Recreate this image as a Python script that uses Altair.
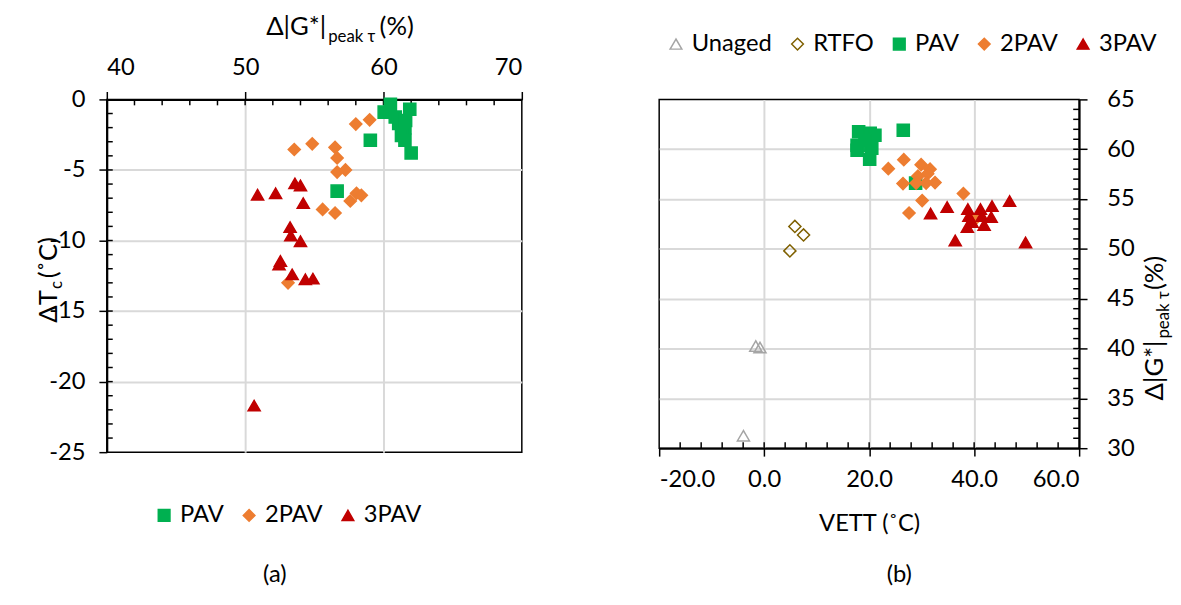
import altair as alt
import pandas as pd

FONT = "Lato"

# ---------------- Panel (a) data ----------------
a_groups = ["PAV", "2PAV", "3PAV"]
a_pav_x = [60.05, 60.5, 61.9, 60.85, 61.1, 61.55, 61.3, 61.55, 62.0, 59.05, 56.65, 61.6]
a_pav_y = [-0.9, -0.35, -0.7, -1.25, -1.7, -2.0, -2.55, -2.9, -3.8, -2.9, -6.5, -1.5]
a_2pav_x = [58.0, 59.0, 53.55, 54.85, 56.5, 56.65, 56.65, 57.25, 58.05, 58.4, 57.6, 55.6, 56.5, 53.1]
a_2pav_y = [-1.75, -1.45, -3.55, -3.15, -3.4, -4.15, -5.15, -5.0, -6.65, -6.8, -7.2, -7.8, -8.05, -13.0]
a_3pav_x = [50.9, 52.2, 53.6, 54.0, 54.2, 53.25, 53.3, 54.0, 52.55, 52.45, 53.4, 54.35, 54.9, 50.65]
a_3pav_y = [-6.75, -6.65, -5.95, -6.1, -7.35, -9.05, -9.65, -10.05, -11.45, -11.7, -12.4, -12.75, -12.7, -21.7]

a_x_ticks = [40, 50, 60, 70]
a_y_ticks = [0, -5, -10, -15, -20, -25]
a_x_minor = [42, 44, 46, 48, 50, 52, 54, 56, 58, 60, 62, 64, 66, 68]
a_y_minor = [-v for v in range(1, 25)]

# ---------------- Panel (b) data ----------------
b_groups = ["Unaged", "RTFO", "PAV", "2PAV", "3PAV"]
b_unaged_x = [-1.6, -0.8, -3.95]
b_unaged_y = [40.25, 40.1, 31.25]
b_rtfo_x = [5.85, 7.5, 4.9]
b_rtfo_y = [52.25, 51.4, 49.8]
b_pav_x = [18.0, 20.2, 21.1, 17.7, 20.2, 17.7, 20.5, 20.1, 26.5, 28.85, 19.2]
b_pav_y = [61.75, 61.6, 61.4, 60.4, 60.4, 59.9, 60.1, 59.0, 61.9, 56.6, 60.9]
b_2pav_x = [23.65, 26.6, 29.9, 31.6, 31.15, 29.3, 26.45, 28.95, 30.85, 32.55, 37.95, 30.1, 27.6, 40.25]
b_2pav_y = [58.05, 58.95, 58.45, 58.0, 57.55, 57.3, 56.55, 56.6, 56.6, 56.65, 55.55, 54.85, 53.6, 53.0]
b_3pav_x = [31.7, 34.85, 38.8, 41.2, 43.4, 46.75, 39.0, 41.5, 43.25, 38.7, 41.9, 36.4, 49.8, 39.6]
b_3pav_y = [53.55, 54.2, 54.0, 54.0, 54.3, 54.8, 53.3, 53.3, 53.2, 52.2, 52.4, 50.85, 50.65, 52.7]

b_x_ticks = [-20, 0, 20, 40, 60]
b_y_ticks = [30, 35, 40, 45, 50, 55, 60, 65]
b_x_minor = [-16, -12, -8, -4, 0, 4, 8, 12, 16, 20, 24, 28, 32, 36, 40, 44, 48, 52, 56]
b_y_minor = list(range(31, 65))

# ---------------- styles ----------------
stroke_col = {"Unaged": "#a5a5a5", "RTFO": "#7f6000", "PAV": "#00b050", "2PAV": "#ed7d31", "3PAV": "#c00000"}
fill_col = {"Unaged": "transparent", "RTFO": "transparent", "PAV": "#00b050", "2PAV": "#ed7d31", "3PAV": "#c00000"}
shape_of = {"Unaged": "triangle-up", "RTFO": "diamond", "PAV": "square", "2PAV": "diamond", "3PAV": "triangle-up"}

W_A, H_A = 420, 357
W_B, H_B = 425, 353
GRID = "#d9d9d9"
MINUS_FIX = "replace(datum.label, '\u2212', '-')"


def edge_grid(lo, hi):
    # grid lines in light grey, hidden where they would sit on the plot frame
    return {"condition": {"test": f"datum.value == {lo} || datum.value == {hi}", "value": 0}, "value": 1}


def frame(xs, ys, groups):
    rows = []
    for g, xv, yv in zip(groups, xs, ys):
        for a, b in zip(xv, yv):
            rows.append({"x": a, "y": b, "g": g})
    return pd.DataFrame(rows)


def point_layer(df, groups, xenc, yenc, legend):
    return alt.Chart(df).mark_point(filled=False, strokeWidth=1.5, opacity=1, size=150).encode(
        x=xenc,
        y=yenc,
        stroke=alt.Stroke("g:N", scale=alt.Scale(domain=groups, range=[stroke_col[g] for g in groups]), legend=legend),
        fill=alt.Fill("g:N", scale=alt.Scale(domain=groups, range=[fill_col[g] for g in groups]), legend=legend),
        shape=alt.Shape("g:N", scale=alt.Scale(domain=groups, range=[shape_of[g] for g in groups]), legend=legend),
    )


def text_piece(txt, x, y, size=26, align="left", angle=0, baseline="alphabetic"):
    return alt.Chart(pd.DataFrame({"t": [txt]})).mark_text(
        font=FONT, fontSize=size, align=align, baseline=baseline, angle=angle, color="black"
    ).encode(text="t:N", x=alt.value(x), y=alt.value(y))


def vrules(vals, scale, y0, y1, color, width=1.5):
    return alt.Chart(pd.DataFrame({"v": vals})).mark_rule(color=color, strokeWidth=width).encode(
        x=alt.X("v:Q", scale=scale, axis=None), y=alt.value(y0), y2=alt.value(y1))


def hrules(vals, scale, x0, x1, color, width=1.5):
    return alt.Chart(pd.DataFrame({"v": vals})).mark_rule(color=color, strokeWidth=width).encode(
        y=alt.Y("v:Q", scale=scale, axis=None), x=alt.value(x0), x2=alt.value(x1))


def legend_def(lx, ly):
    return alt.Legend(title=None, orient="none", legendX=lx, legendY=ly, direction="horizontal",
                      labelFont=FONT, labelFontSize=24, labelColor="black", symbolSize=140,
                      symbolStrokeWidth=1.5, columnPadding=13)


# ---------------- Panel (a) ----------------
dfa = frame([a_pav_x, a_2pav_x, a_3pav_x], [a_pav_y, a_2pav_y, a_3pav_y], a_groups)
sxa = alt.Scale(domain=[40, 70], nice=False, zero=False)
sya = alt.Scale(domain=[-25, 0], nice=False, zero=False)

axa_x = alt.Axis(orient="top", values=a_x_ticks, title=None, grid=True, gridColor=GRID, gridWidth=2,
                 gridOpacity=edge_grid(40, 70), tickSize=8, tickWidth=1.5,
                 tickColor="black", domainColor="black", domainWidth=2, labelPadding=12,
                 labelFont=FONT, labelFontSize=24, labelColor="black")
axa_y = alt.Axis(orient="left", values=a_y_ticks, title=None, grid=True, gridColor=GRID, gridWidth=2,
                 gridOpacity=edge_grid(-25, 0), tickSize=8, tickWidth=1.5,
                 tickColor="black", domainColor="black", domainWidth=2, labelPadding=14,
                 labelFont=FONT, labelFontSize=24, labelColor="black", labelExpr=MINUS_FIX)

pts_a = point_layer(dfa, a_groups,
                    alt.X("x:Q", scale=sxa, axis=axa_x),
                    alt.Y("y:Q", scale=sya, axis=axa_y),
                    legend_def(46, 409))

ta_x = vrules(a_x_minor, sxa, 0, 6, "black")
ta_y = hrules(a_y_minor, sya, 0, 6, "black")

texts_a = [
    text_piece("\u0394|G*|", 222, -65, align="right"),
    text_piece("peak \u03c4", 224, -58, size=17),
    text_piece("(%)", 276, -65),
    text_piece("\u0394T", -50, 193, align="right", angle=270),
    text_piece("c", -45, 192, size=17, angle=270),
    text_piece("(\u02daC)", -50, 181, angle=270),
    text_piece("(a)", 170, 481, size=24, baseline="middle", align="center"),
]

panel_a = alt.layer(ta_x, ta_y, pts_a, *texts_a).resolve_axis(
    x="independent", y="independent").properties(width=W_A, height=H_A)

# ---------------- Panel (b) ----------------
dfb = frame([b_unaged_x, b_rtfo_x, b_pav_x, b_2pav_x, b_3pav_x],
            [b_unaged_y, b_rtfo_y, b_pav_y, b_2pav_y, b_3pav_y], b_groups)
sxb = alt.Scale(domain=[-20, 60], nice=False, zero=False)
syb = alt.Scale(domain=[30, 65], nice=False, zero=False)

axb_x = alt.Axis(orient="bottom", values=b_x_ticks, format=".1f", title="VETT (\u02daC)",
                 grid=True, gridColor=GRID, gridWidth=2, gridOpacity=edge_grid(-20, 60),
                 tickSize=8, tickWidth=1.5, tickColor="black", domainColor="black", domainWidth=2,
                 labelPadding=12, labelFont=FONT, labelFontSize=24, labelColor="black", labelExpr=MINUS_FIX,
                 titleFont=FONT, titleFontSize=24, titleFontWeight="normal", titleColor="black", titlePadding=20)
axb_y = alt.Axis(orient="right", values=b_y_ticks, title=None, grid=True, gridColor=GRID, gridWidth=2,
                 gridOpacity=edge_grid(30, 65), tickSize=8, tickWidth=1.5,
                 tickColor="black", domainColor="black", domainWidth=2, labelPadding=20,
                 labelFont=FONT, labelFontSize=24, labelColor="black")

pts_b = point_layer(dfb, b_groups,
                    alt.X("x:Q", scale=sxb, axis=axb_x),
                    alt.Y("y:Q", scale=syb, axis=axb_y),
                    legend_def(5, -68))

tb_x = vrules(b_x_minor, sxb, H_B, H_B - 6, "black")
tb_y = hrules(b_y_minor, syb, W_B, W_B - 6, "black")

texts_b = [
    text_piece("\u0394|G*|", 510, 244, align="right", angle=270),
    text_piece("peak \u03c4", 516, 242, size=17, angle=270),
    text_piece("(%)", 510, 193, angle=270),
    text_piece("(b)", 243, 481, size=24, baseline="middle", align="center"),
]

panel_b = alt.layer(tb_x, tb_y, pts_b, *texts_b).resolve_axis(
    x="independent", y="independent").properties(width=W_B, height=H_B)

chart = alt.hconcat(panel_a, panel_b, spacing=135).resolve_scale(
    stroke="independent", fill="independent", shape="independent"
).properties(
    padding={"left": 28, "top": 2, "right": 0, "bottom": 0}
).configure_view(stroke="black", strokeWidth=1.5)

chart.save("out.html", embed_options={"renderer": "svg", "actions": False})
